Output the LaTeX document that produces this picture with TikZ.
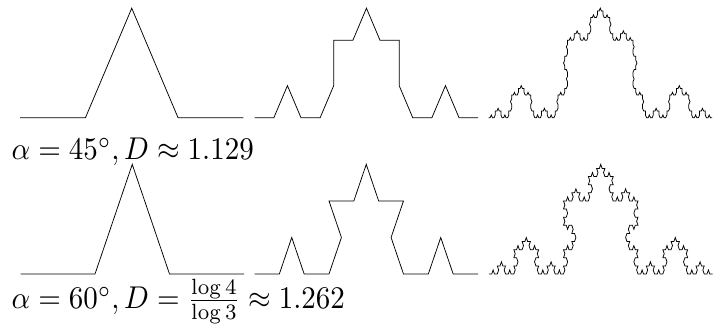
\documentclass[tikz,border=0pt]{standalone}
\usepackage{graphicx}
\pgfmathdeclarefunction{tw}{1}{\begingroup\pgfmathparse{((#1)==1)-((#1)==2)}\pgfmathsmuggle\pgfmathresult\endgroup}
\tikzset{
  curve/.style={draw=black, line width=0.75pt, line join=miter},
  lab/.style={anchor=base west, inner sep=0pt}
}
% #1 = angle, #2 = step, #3 = last index
\newcommand\cesarocurve[3]{%
  \draw[curve] (0,0) \foreach \k [evaluate=\k as \h using {#1*(tw(mod(\k,4))+tw(mod(floor(\k/4),4))+tw(mod(floor(\k/16),4))+tw(mod(floor(\k/64),4)))}] in {0,...,#3} { -- ++(\h:#2) };%
}
\newcommand\biglabel[1]{\scalebox{2.9}[3.15]{#1}}
\begin{document}
\begin{tikzpicture}[x=1pt,y=1pt]
\useasboundingbox (0,0) rectangle (726,324);
% top row, alpha = 45
\begin{scope}[shift={(20,206.3)}, yscale=2.3656]
  \cesarocurve{45}{65.46}{3}
\end{scope}
\begin{scope}[shift={(254.7,206.3)}, yscale=2.3656]
  \cesarocurve{45}{19.173}{15}
\end{scope}
\begin{scope}[shift={(488.5,206.3)}, yscale=2.3656]
  \cesarocurve{45}{1.6448}{255}
\end{scope}
% bottom row, alpha = 60
\begin{scope}[shift={(20.5,50)}, yscale=1.6987]
  \cesarocurve{60}{74.5}{3}
\end{scope}
\begin{scope}[shift={(254.5,50)}, yscale=1.6987]
  \cesarocurve{60}{24.833}{15}
\end{scope}
\begin{scope}[shift={(489,50)}, yscale=1.6987]
  \cesarocurve{60}{2.7593}{255}
\end{scope}
\node[lab] (lab1) at (11.5,164.5) {\biglabel{$\alpha=45^\circ, D\approx 1.129$}};
\node[lab] (lab2) at (11.5,15.5) {\biglabel{$\alpha=60^\circ, D=\frac{\log 4}{\log 3}\approx 1.262$}};
\end{tikzpicture}
\end{document}
